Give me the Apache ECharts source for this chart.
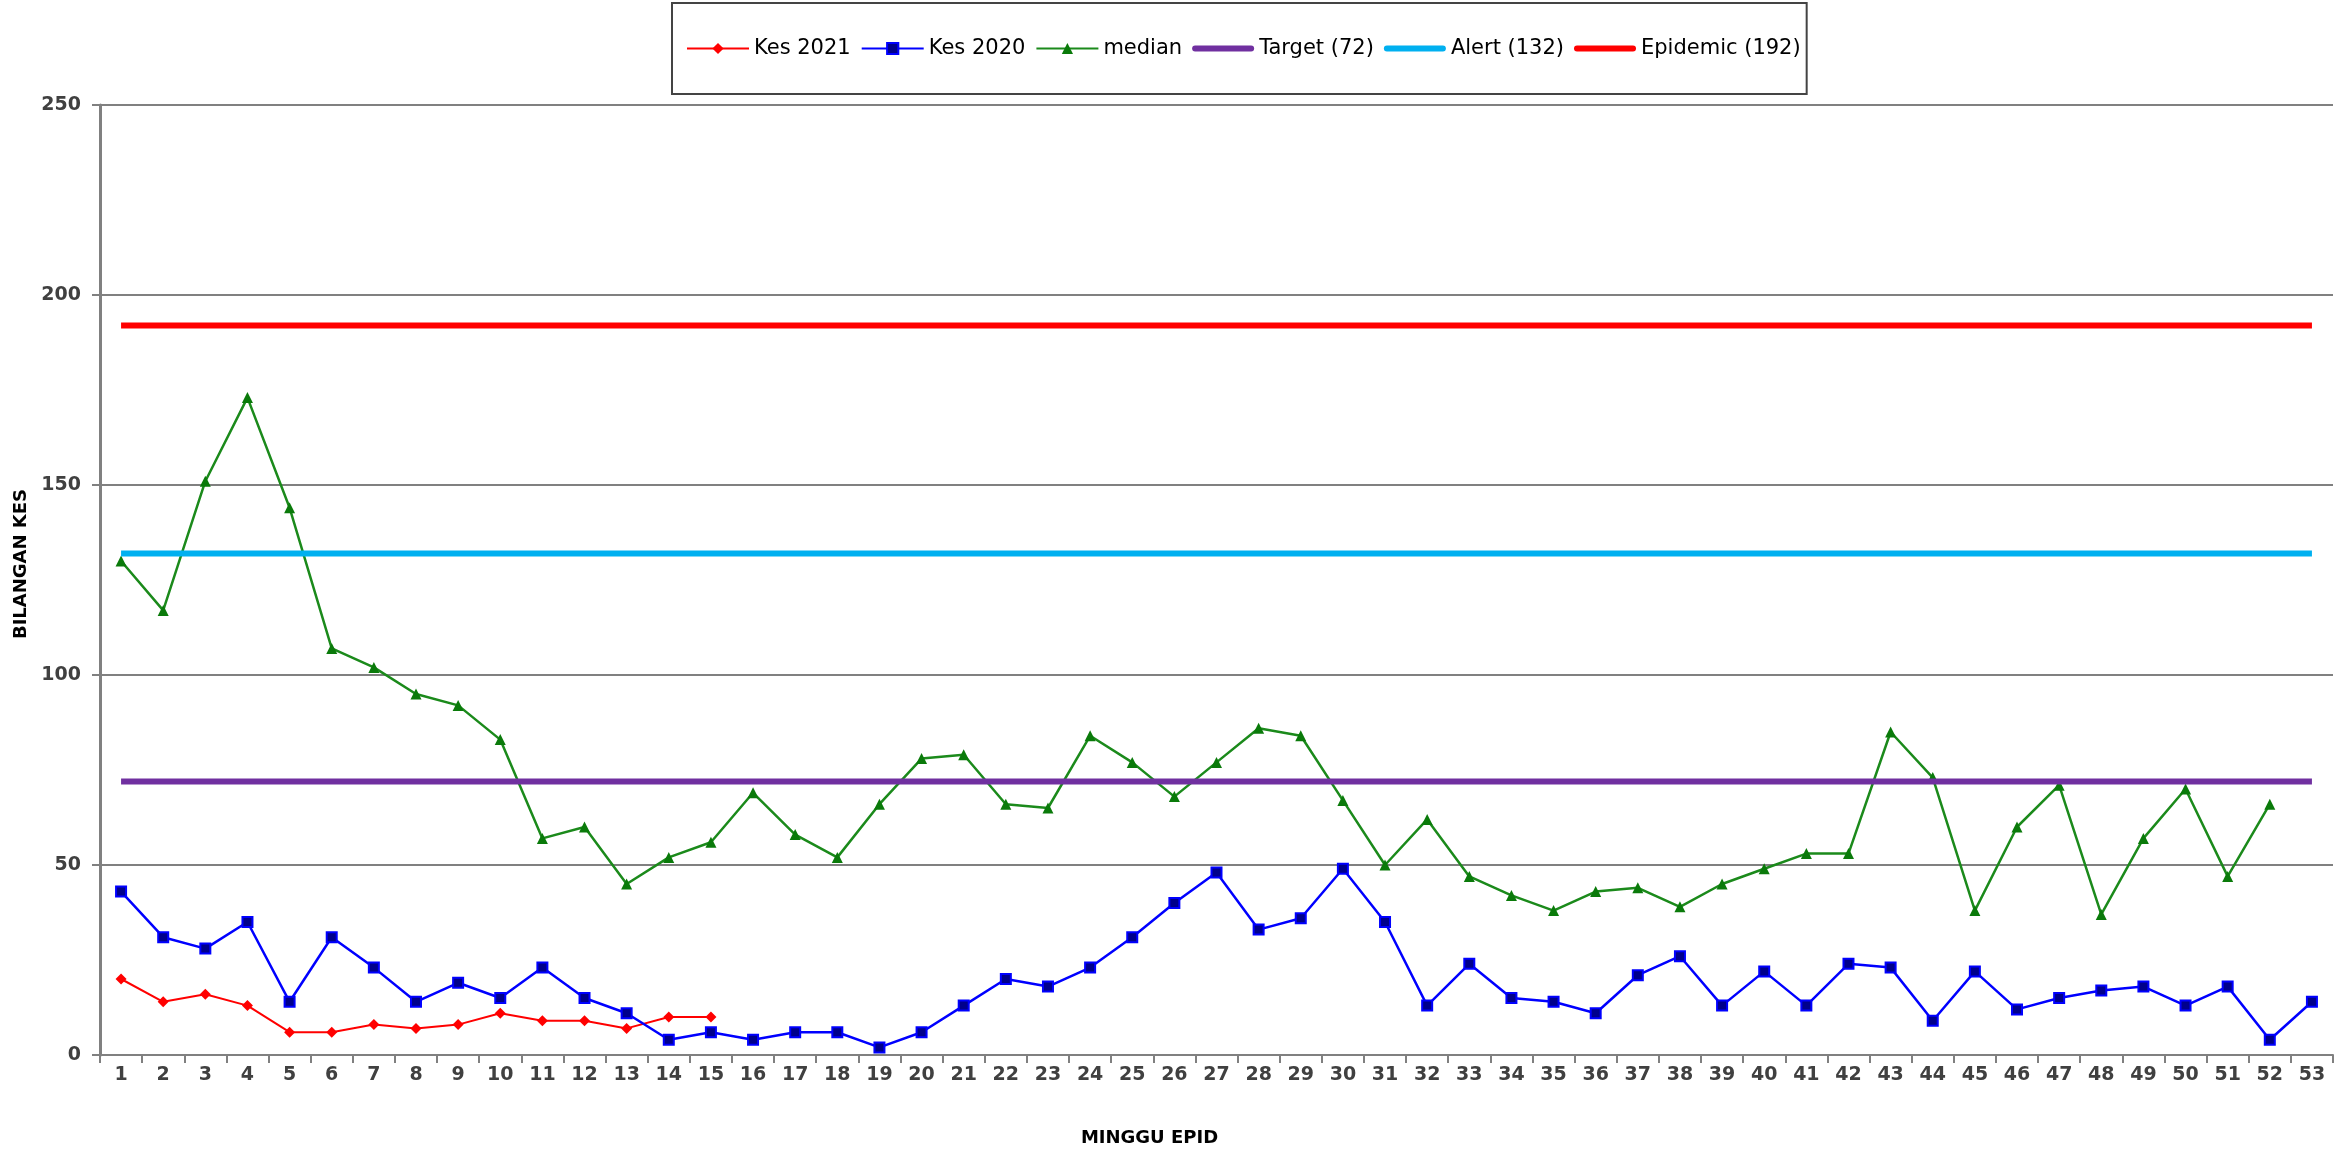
<!DOCTYPE html>
<html>
<head>
<meta charset="utf-8">
<script src="https://cdn.jsdelivr.net/npm/echarts@6/dist/echarts.min.js"></script>
<style>
html,body{margin:0;padding:0;background:#fff;}
#chart{width:2351px;height:1149px;}
</style>
</head>
<body>
<div id="chart"></div>
<script>
var weeks = [];
for (var w = 1; w <= 53; w++) weeks.push(String(w));

var kes2021 = [20,14,16,13,6,6,8,7,8,11,9,9,7,10,10];
var kes2020 = [43,31,28,35,14,31,23,14,19,15,23,15,11,4,6,4,6,6,2,6,13,20,18,23,31,40,48,33,36,49,35,13,24,15,14,11,21,26,13,22,13,24,23,9,22,12,15,17,18,13,18,4,14];
var median = [130,117,151,173,144,107,102,95,92,83,57,60,45,52,56,69,58,52,66,78,79,66,65,84,77,68,77,86,84,67,50,62,47,42,38,43,44,39,45,49,53,53,85,73,38,60,71,37,57,70,47,66];
var targetLevel = 72;
var alertLevel = 132;
var epidemicLevel = 192;
var yTicks = [0, 50, 100, 150, 200, 250];

function flat(v){ return weeks.map(function(){ return v; }); }

var chart = echarts.init(document.getElementById('chart'), null, {renderer:'canvas'});
var FONT = '"DejaVu Sans", sans-serif';
var BAR_ICON = 'path://M3,0H59A3,3 0 0 1 59,6H3A3,3 0 0 1 3,0Z';

chart.setOption({
  animation: false,
  backgroundColor: '#ffffff',
  textStyle: {fontFamily: FONT},
  legend: {
    left: 672, top: 3,
    padding: [35, 6, 35, 14],
    borderColor: '#444', borderWidth: 2,
    itemWidth: 62, itemHeight: 14, itemGap: 10,
    textStyle: {fontSize: 21, color: '#000', fontFamily: FONT},
    data: [
      {name: 'Kes 2021'},
      {name: 'Kes 2020'},
      {name: 'median'},
      {name: 'Target (72)', icon: BAR_ICON},
      {name: 'Alert (132)', icon: BAR_ICON},
      {name: 'Epidemic (192)', icon: BAR_ICON}
    ]
  },
  grid: {left: 100, right: 18, top: 105, bottom: 94, containLabel: false, outerBoundsMode: 'none'},
  xAxis: {
    type: 'category',
    data: weeks,
    boundaryGap: true,
    name: 'MINGGU EPID',
    nameLocation: 'middle',
    nameGap: 74,
    nameTextStyle: {fontSize: 18, fontWeight: 'bold', color: '#000', padding: [0, 134, 0, 0]},
    axisLine: {lineStyle: {color: '#808080', width: 2}},
    axisTick: {show: true, alignWithLabel: false, length: 8, lineStyle: {color: '#808080', width: 2}},
    axisLabel: {fontSize: 19, fontWeight: 'bold', color: '#404040', margin: 11, interval: 0}
  },
  yAxis: {
    type: 'value',
    min: 0, max: 250, interval: 50,
    name: 'BILANGAN KES',
    nameLocation: 'middle',
    nameGap: 68,
    nameTextStyle: {fontSize: 18, fontWeight: 'bold', color: '#000', padding: [0, 0, 0, 32]},
    axisLine: {show: true, lineStyle: {color: '#808080', width: 3}},
    axisTick: {show: true, length: 8, lineStyle: {color: '#808080', width: 2}},
    axisLabel: {fontSize: 19, fontWeight: 'bold', color: '#404040', margin: 19,
      formatter: function(v){ return yTicks.indexOf(v) >= 0 ? String(v) : ''; }},
    splitLine: {show: true, lineStyle: {color: '#808080', width: 2}}
  },
  series: [
    {name: 'Kes 2021', type: 'line', data: kes2021, symbol: 'diamond', symbolSize: 11,
     lineStyle: {color: '#FF0000', width: 2}, itemStyle: {color: '#FF0000'}, z: 5},
    {name: 'Kes 2020', type: 'line', data: kes2020, symbol: 'rect', symbolSize: 10,
     lineStyle: {color: '#0000FF', width: 2.5}, itemStyle: {color: '#00008B', borderColor: '#0000FF', borderWidth: 2}, z: 5},
    {name: 'median', type: 'line', data: median, symbol: 'triangle', symbolSize: 11,
     lineStyle: {color: '#1B8A1B', width: 2.5}, itemStyle: {color: '#0A7A0A'}, z: 5},
    {name: 'Target (72)', type: 'line', data: flat(targetLevel), symbol: 'none',
     lineStyle: {color: '#7030A0', width: 6}, itemStyle: {color: '#7030A0'}, z: 6},
    {name: 'Alert (132)', type: 'line', data: flat(alertLevel), symbol: 'none',
     lineStyle: {color: '#00B0F0', width: 6}, itemStyle: {color: '#00B0F0'}, z: 6},
    {name: 'Epidemic (192)', type: 'line', data: flat(epidemicLevel), symbol: 'none',
     lineStyle: {color: '#FF0000', width: 6}, itemStyle: {color: '#FF0000'}, z: 6}
  ]
});
</script>
</body>
</html>
